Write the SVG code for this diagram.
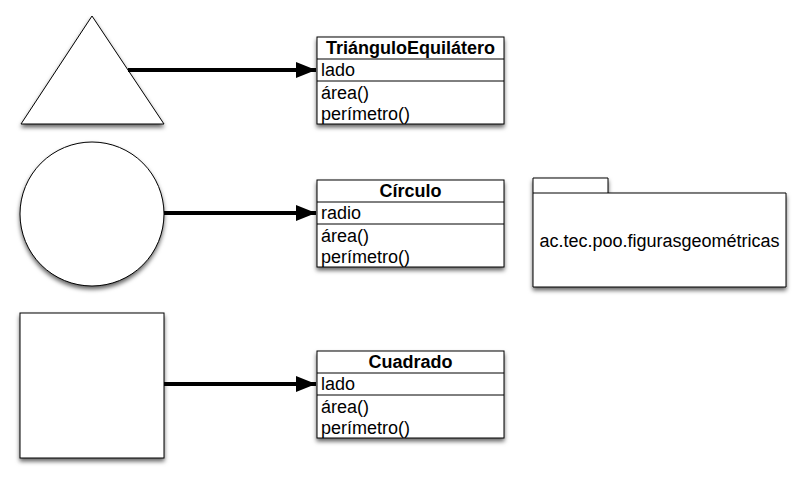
<svg xmlns="http://www.w3.org/2000/svg" width="805" height="481" viewBox="0 0 805 481">
<defs>
<filter id="sh" x="-10%" y="-10%" width="130%" height="130%">
<feDropShadow dx="0" dy="3" stdDeviation="2" flood-color="#000" flood-opacity="0.6"/>
</filter>
<marker id="arr" markerWidth="5" markerHeight="4" refX="5" refY="2" orient="auto" markerUnits="strokeWidth">
<path d="M0,0 L5,2 L0,4 Z" fill="#000"/>
</marker>
</defs>
<style>
.shape{fill:#fff;stroke:#000;stroke-width:1;filter:url(#sh)}
.ln{stroke:#000;stroke-width:1;fill:none}
.t{font-family:"Liberation Sans",Arial,Helvetica,sans-serif;font-size:18px;fill:#000}
.b{font-weight:bold;text-anchor:middle}
.conn{stroke:#000;stroke-width:4;fill:none;marker-end:url(#arr)}
</style>
<rect width="805" height="481" fill="#fff"/>

<g id="triangulo-figura">
<polygon class="shape" points="92,16 21,124 164,124"/>
</g>
<g id="circulo-figura">
<circle class="shape" cx="92" cy="214" r="72"/>
</g>
<g id="cuadrado-figura">
<rect class="shape" x="20" y="313" width="144" height="145"/>
</g>

<g id="clase-triangulo">
<rect class="shape" x="317" y="37" width="187" height="87"/>
<line class="ln" x1="317" y1="59" x2="504" y2="59"/>
<line class="ln" x1="317" y1="81" x2="504" y2="81"/>
<text class="t b" x="410.5" y="54">TriánguloEquilátero</text>
<text class="t" x="321" y="76">lado</text>
<text class="t" x="321" y="99">área()</text>
<text class="t" x="321" y="120">perímetro()</text>
</g>

<g id="clase-circulo">
<rect class="shape" x="317" y="180" width="187" height="87"/>
<line class="ln" x1="317" y1="202" x2="504" y2="202"/>
<line class="ln" x1="317" y1="224" x2="504" y2="224"/>
<text class="t b" x="410.5" y="197">Círculo</text>
<text class="t" x="321" y="219">radio</text>
<text class="t" x="321" y="242">área()</text>
<text class="t" x="321" y="263">perímetro()</text>
</g>

<g id="clase-cuadrado">
<rect class="shape" x="317" y="351" width="187" height="87"/>
<line class="ln" x1="317" y1="373" x2="504" y2="373"/>
<line class="ln" x1="317" y1="395" x2="504" y2="395"/>
<text class="t b" x="410.5" y="368">Cuadrado</text>
<text class="t" x="321" y="390">lado</text>
<text class="t" x="321" y="413">área()</text>
<text class="t" x="321" y="434">perímetro()</text>
</g>

<g id="paquete">
<path class="shape" d="M533,178 H608 V193 H786 V287 H533 Z"/>
<line class="ln" x1="533" y1="193" x2="608" y2="193"/>
<text class="t" x="659.5" y="247" text-anchor="middle">ac.tec.poo.figurasgeométricas</text>
</g>

<g id="conectores">
<line class="conn" x1="128" y1="70" x2="316" y2="70"/>
<line class="conn" x1="164" y1="213" x2="316" y2="213"/>
<line class="conn" x1="164" y1="384" x2="316" y2="384"/>
</g>
</svg>
